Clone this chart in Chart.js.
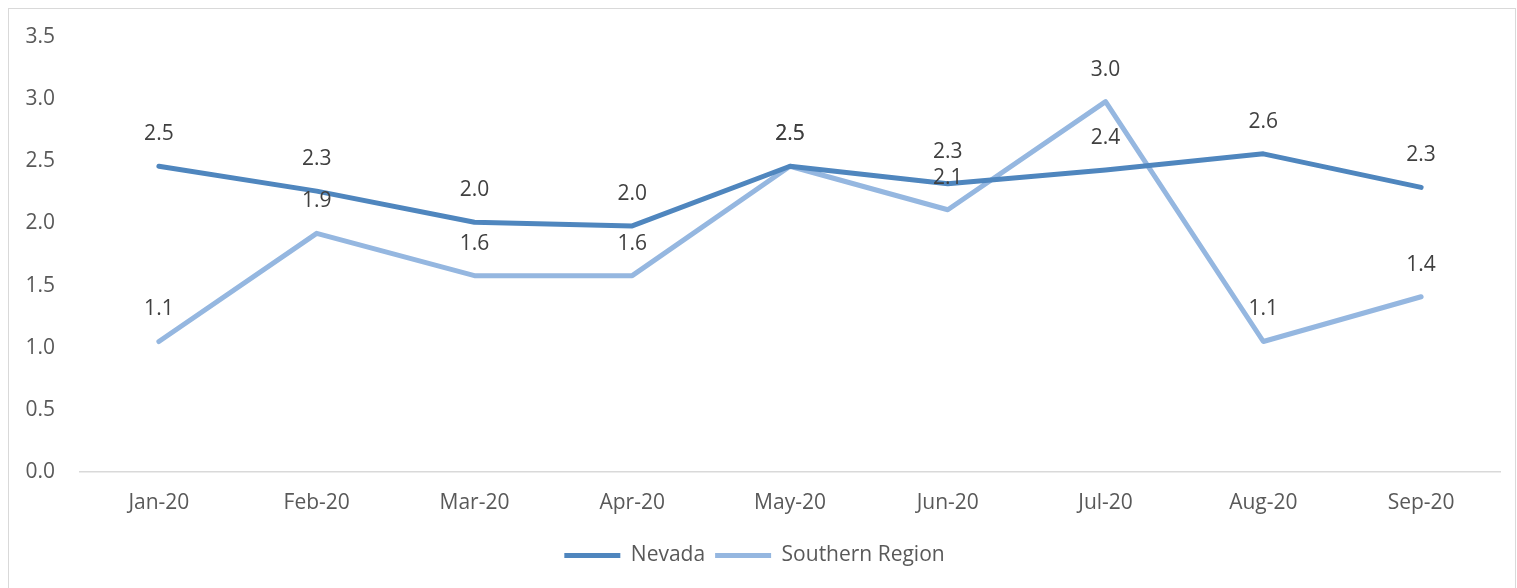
<!DOCTYPE html>
<html>
<head>
<meta charset="utf-8">
<script src="https://cdn.jsdelivr.net/npm/chart.js@4.4.1/dist/chart.umd.min.js"></script>
<style>
  html, body { margin: 0; padding: 0; background: #fff; }
  #wrap {
    position: absolute; left: 8px; top: 8px;
    width: 1506px; height: 579px;
    border: 1px solid #d9d9d9;
  }
</style>
</head>
<body>
<div id="wrap"><canvas id="chart"></canvas></div>
<script>
// ---- data ----
const months = ['Jan-20', 'Feb-20', 'Mar-20', 'Apr-20', 'May-20', 'Jun-20', 'Jul-20', 'Aug-20', 'Sep-20'];
const nevada = [2.46, 2.26, 2.01, 1.98, 2.46, 2.32, 2.43, 2.56, 2.29];
const southern = [1.05, 1.92, 1.58, 1.58, 2.46, 2.11, 2.98, 1.05, 1.41];
const yTicks = [0, 0.5, 1.0, 1.5, 2.0, 2.5, 3.0, 3.5];

const FONT = '"Open Sans", "Liberation Sans", sans-serif';
const FS = 21;

// value labels drawn above every point
const valueLabels = {
    id: 'valueLabels',
    afterDatasetsDraw(chart) {
        const ctx = chart.ctx;
        ctx.save();
        ctx.font = FS + 'px ' + FONT;
        ctx.fillStyle = '#404040';
        ctx.textAlign = 'center';
        ctx.textBaseline = 'middle';
        chart.data.datasets.forEach((ds, i) => {
            chart.getDatasetMeta(i).data.forEach((pt, j) => {
                ctx.fillText(ds.data[j].toFixed(1), pt.x, pt.y - 32);
            });
        });
        ctx.restore();
    }
};

new Chart(document.getElementById('chart'), {
    type: 'line',
    data: {
        labels: months,
        datasets: [
            { label: 'Nevada', data: nevada, borderColor: '#4f86be', backgroundColor: '#4f86be',
              borderWidth: 5, pointRadius: 0, tension: 0, borderCapStyle: 'round', borderJoinStyle: 'round' },
            { label: 'Southern Region', data: southern, borderColor: '#95b7e0', backgroundColor: '#95b7e0',
              borderWidth: 5, pointRadius: 0, tension: 0, borderCapStyle: 'round', borderJoinStyle: 'round' }
        ]
    },
    options: {
        responsive: true, maintainAspectRatio: false, animation: false,
        layout: { padding: { top: 28, right: 15, left: 0, bottom: 12 } },
        plugins: {
            tooltip: { enabled: false },
            legend: {
                position: 'bottom',
                labels: {
                    color: '#595959', font: { family: FONT, size: FS },
                    boxWidth: 56, boxHeight: 5, padding: 10,
                    generateLabels(chart) {
                        return chart.data.datasets.map((ds, i) => ({
                            text: ds.label, fillStyle: ds.borderColor, strokeStyle: ds.borderColor,
                            lineWidth: 0, fontColor: '#595959', datasetIndex: i, hidden: false
                        }));
                    }
                }
            }
        },
        scales: {
            x: {
                offset: true,
                grid: { display: false, drawTicks: false },
                border: { display: true, color: '#d9d9d9', width: 1.5 },
                ticks: { color: '#595959', font: { family: FONT, size: FS }, padding: 18 },
                afterFit(scale) { scale.height = 63; }
            },
            y: {
                min: 0, max: 3.5,
                afterBuildTicks(scale) { scale.ticks = yTicks.map(v => ({ value: v })); },
                grid: { display: false, drawTicks: false },
                border: { display: false },
                ticks: { color: '#595959', font: { family: FONT, size: FS }, padding: 25,
                         callback: v => Number(v).toFixed(1) },
                afterFit(scale) {
                    scale.width = 71;
                    // tick padding is horizontal only here
                    scale.paddingTop = 12;
                    scale.paddingBottom = 12;
                }
            }
        }
    },
    plugins: [valueLabels]
});
</script>
</body>
</html>
